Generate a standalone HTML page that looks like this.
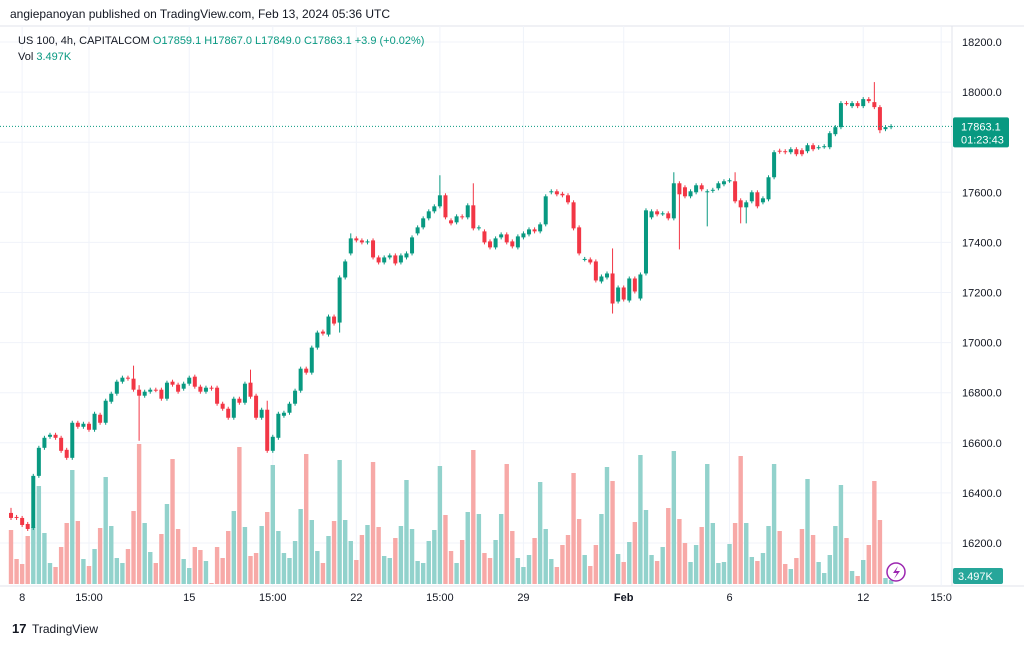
<!DOCTYPE html>
<html><head><meta charset="utf-8"><style>
body{margin:0;background:#fff;width:1024px;height:643px;overflow:hidden;font-family:"Liberation Sans",sans-serif}
svg text{font-family:"Liberation Sans",sans-serif}
</style></head><body>
<svg id="c" width="1024" height="643" xmlns="http://www.w3.org/2000/svg">
<rect x="0" y="0" width="1024" height="643" fill="#fff"/>
<text x="10" y="18" font-size="12" fill="#131722">angiepanoyan published on TradingView.com, Feb 13, 2024 05:36 UTC</text>
<line x1="0" y1="26" x2="1024" y2="26" stroke="#e0e3eb"/>
<line x1="952" y1="26" x2="952" y2="586" stroke="#e0e3eb"/>
<line x1="0" y1="586" x2="1024" y2="586" stroke="#e0e3eb"/>
<g id="grid"></g><g id="vol"></g><g id="candles"></g><g id="axes"></g>
<text x="18" y="44" font-size="11" fill="#131722">US 100, 4h, CAPITALCOM <tspan fill="#089981">O17859.1 H17867.0 L17849.0 C17863.1 +3.9 (+0.02%)</tspan></text>
<text x="18" y="60" font-size="11" fill="#131722">Vol <tspan fill="#089981">3.497K</tspan></text>
<circle cx="896" cy="572" r="9" fill="#fff" stroke="#9c27b0" stroke-width="1.5"/>
<path d="M898 566 L893 573 L897 573 L894 579 L900 571 L896 571 Z" fill="#9c27b0"/>
<text x="12" y="633" font-size="13" font-weight="bold" fill="#131722">17</text>
<text x="32" y="633" font-size="12" fill="#131722">TradingView</text>
</svg>
<script>
const opens=[16320,16304,16300,16276,16260,16468,16580,16624,16632,16620,16572,16540,16680,16664,16676,16652,16712,16680,16764,16796,16844,16860,16856,16812,16788,16804,16812,16812,16776,16844,16832,16816,16836,16864,16824,16804,16820,16820,16756,16736,16700,16776,16760,16840,16788,16700,16732,16568,16620,16708,16720,16756,16808,16896,16880,16980,17044,17032,17104,17080,17260,17356,17416,17408,17400,17408,17340,17320,17340,17348,17320,17340,17356,17436,17460,17496,17524,17544,17588,17488,17480,17504,17500,17548,17456,17444,17404,17380,17420,17432,17404,17380,17420,17432,17452,17444,17472,17600,17604,17594,17588,17560,17460,17332,17332,17324,17244,17260,17276,17164,17220,17168,17256,17176,17276,17500,17524,17514,17516,17496,17636,17620,17584,17600,17628,17600,17606,17616,17632,17646,17644,17568,17540,17564,17600,17560,17572,17660,17766,17764,17760,17772,17768,17764,17788,17778,17782,17780,17832,17860,17956,17944,17956,17944,17972,17960,17940,17852,17860];
const closes=[16300,16300,16272,16256,16468,16580,16620,16632,16620,16568,16540,16680,16664,16676,16652,16716,16680,16768,16796,16844,16860,16856,16812,16788,16804,16812,16810,16776,16840,16832,16804,16836,16860,16824,16804,16820,16816,16756,16736,16700,16776,16760,16836,16784,16700,16732,16568,16624,16716,16720,16756,16808,16896,16880,16980,17040,17036,17104,17076,17260,17324,17416,17408,17400,17404,17340,17320,17340,17348,17316,17348,17356,17420,17460,17496,17524,17544,17588,17500,17476,17504,17500,17548,17456,17460,17400,17380,17416,17432,17400,17384,17424,17436,17452,17444,17472,17584,17604,17592,17588,17560,17456,17356,17334,17320,17248,17264,17276,17156,17220,17172,17256,17204,17272,17528,17524,17512,17516,17496,17636,17592,17584,17604,17628,17612,17604,17610,17636,17644,17648,17564,17540,17560,17600,17544,17576,17660,17760,17762,17760,17772,17752,17752,17788,17772,17780,17784,17836,17860,17956,17954,17956,17944,17972,17964,17940,17848,17860,17864];
const volumes=[54,25,20,48,57,98,51,21,17,37,61,114,63,25,18,35,56,107,58,26,21,35,73,140,61,32,21,50,80,125,55,25,16,37,34,23,1,37,26,53,73,137,57,28,31,58,72,119,53,31,26,43,75,130,64,33,21,48,63,124,64,43,24,49,59,122,57,28,26,46,58,104,55,23,21,43,54,118,69,33,21,44,72,134,70,31,26,44,70,120,53,26,17,29,46,102,55,25,17,39,49,111,65,29,18,39,70,117,103,30,22,42,62,129,74,29,23,37,76,133,65,41,22,39,57,120,61,21,22,40,61,128,61,27,23,31,58,120,53,20,15,26,55,105,49,22,11,29,58,99,46,13,8,24,39,103,64,6,4];
const highIdx=[0,22,23,43,46,61,77,83,108,119,130,155];
const highVals=[16340,16908,16830,16892,16768,17436,17668,17636,17376,17680,17680,18040];
const lowIdx=[23,46,59,108,120,125,131,132,156];
const lowVals=[16608,16560,17040,17116,17372,17464,17476,17476,17836];
const priceTicks=[18200,18000,17800,17600,17400,17200,17000,16800,16600,16400,16200];
const timeLabels=["8","15:00","15","15:00","22","15:00","29","Feb","6","12","15:0"];
const timeIdx=[2,14,32,47,62,77,92,110,129,153,167];
const lastPrice=17863.1;
const NS="http://www.w3.org/2000/svg";
const yP=p=>42+(18200-p)*0.2505;
const xI=i=>11+5.57*i;
const yV=v=>584-v;
function mk(t,a,parent){const e=document.createElementNS(NS,t);for(const k in a)e.setAttribute(k,a[k]);document.getElementById(parent).appendChild(e);return e;}
priceTicks.forEach(p=>{
 const l=mk('line',{x1:0,x2:952,y1:yP(p),y2:yP(p),stroke:'#f0f3fa'},'grid');
 
 
 const t=mk('text',{x:962,y:yP(p)+4,'font-size':11,fill:'#131722'},'axes');
 t.textContent=p.toFixed(1);
 
 
});
timeLabels.forEach((s,k)=>{
 const x=xI(timeIdx[k]);
 const l=mk('line',{x1:x,x2:x,y1:26,y2:586,stroke:'#f0f3fa'},'grid');
 
 
 const t=mk('text',{x:x,y:601,'font-size':11,fill:'#131722','text-anchor':'middle','font-weight':s==='Feb'?'bold':'normal'},'axes');
 t.textContent=s;
 
 
});
volumes.forEach((v,i)=>{
 const up=closes[i]>=opens[i];
 const r=mk('rect',{x:xI(i)-2.2,y:yV(v),width:4.4,height:v,fill:up?'#92d2cc':'#f7a9a7'},'vol');
 
 
});
opens.forEach((o,i)=>{
 const c=closes[i],up=c>=o,col=up?'#089981':'#f23645';
 let hi=Math.max(o,c)+8,lo=Math.min(o,c)-8;
 const hk=highIdx.indexOf(i);if(hk>=0)hi=highVals[hk];
 const lk=lowIdx.indexOf(i);if(lk>=0)lo=lowVals[lk];
 const x=xI(i);
 const w=mk('line',{x1:x,x2:x,y1:yP(hi),y2:yP(lo),stroke:col,'stroke-width':1},'candles');
 
 
 const top=yP(Math.max(o,c)),h=Math.max(1,yP(Math.min(o,c))-top);
 const b=mk('rect',{x:x-2,y:top,width:4,height:h,fill:col},'candles');
 
 
});
const ly=yP(lastPrice);
const pl=mk('line',{x1:0,x2:952,y1:ly,y2:ly,stroke:'#089981','stroke-dasharray':'1 2'},'axes');


const pb=mk('rect',{x:953,y:ly-9,width:56,height:30,fill:'#089981',rx:2},'axes');


const pt=mk('text',{x:961,y:ly+4,'font-size':11,fill:'#fff'},'axes');
pt.textContent=lastPrice.toFixed(1);


const ct=mk('text',{x:961,y:ly+17,'font-size':11,fill:'#fff'},'axes');
ct.textContent='01:23:43';


const vb=mk('rect',{x:953,y:568,width:50,height:16,fill:'#26a69a',rx:2},'axes');


const vt=mk('text',{x:958,y:580,'font-size':11,fill:'#fff'},'axes');
vt.textContent='3.497K';


</script>
</body></html>
